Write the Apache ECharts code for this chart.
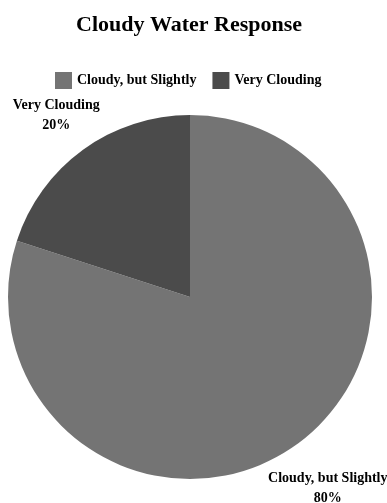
<!DOCTYPE html>
<html>
<head>
<meta charset="utf-8">
<script src="https://cdn.jsdelivr.net/npm/echarts@6/dist/echarts.min.js"></script>
<style>
  html, body { margin: 0; padding: 0; background: #fff; }
  #chart { width: 387px; height: 503px; }
</style>
</head>
<body>
<div id="chart"></div>
<script>
// Survey answers for the cloudy water question
const categories = ['Cloudy, but Slightly', 'Very Clouding'];
const shares = [80, 20];
const sliceColors = ['#747474', '#4b4b4b'];

const font = '"Liberation Serif", "Times New Roman", serif';
const pieData = categories.map((name, i) => ({ name, value: shares[i] }));

const chart = echarts.init(document.getElementById('chart'), null, { renderer: 'canvas' });
chart.setOption({
  backgroundColor: '#ffffff',
  color: sliceColors,
  title: {
    text: 'Cloudy Water Response',
    left: 71,
    top: 9,
    textStyle: { fontFamily: font, fontWeight: 'bold', fontSize: 22, color: '#000' }
  },
  legend: {
    data: categories,
    top: 67,
    left: 50,
    icon: 'rect',
    itemWidth: 17,
    itemHeight: 17,
    itemGap: 16,
    textStyle: { fontFamily: font, fontWeight: 'bold', fontSize: 14, color: '#000' }
  },
  series: [
    {
      type: 'pie',
      center: [190, 297],
      radius: 182,
      startAngle: 90,
      clockwise: true,
      silent: true,
      label: { show: false },
      labelLine: { show: false },
      itemStyle: { borderWidth: 0 },
      data: pieData
    },
    {
      // transparent ring carrying the slice labels just outside the pie
      type: 'pie',
      center: [190, 297],
      radius: [182, 274],
      startAngle: 90,
      clockwise: true,
      silent: true,
      legendHoverLink: false,
      itemStyle: { color: 'rgba(0,0,0,0)', borderWidth: 0 },
      label: {
        show: true,
        position: 'inside',
        formatter: p => p.name + '\n' + p.value + '%',
        fontFamily: font,
        fontWeight: 'bold',
        fontSize: 14,
        lineHeight: 20,
        color: '#000',
        align: 'center',
        offset: [2, 5]
      },
      labelLine: { show: false },
      data: pieData
    }
  ]
});
</script>
</body>
</html>
